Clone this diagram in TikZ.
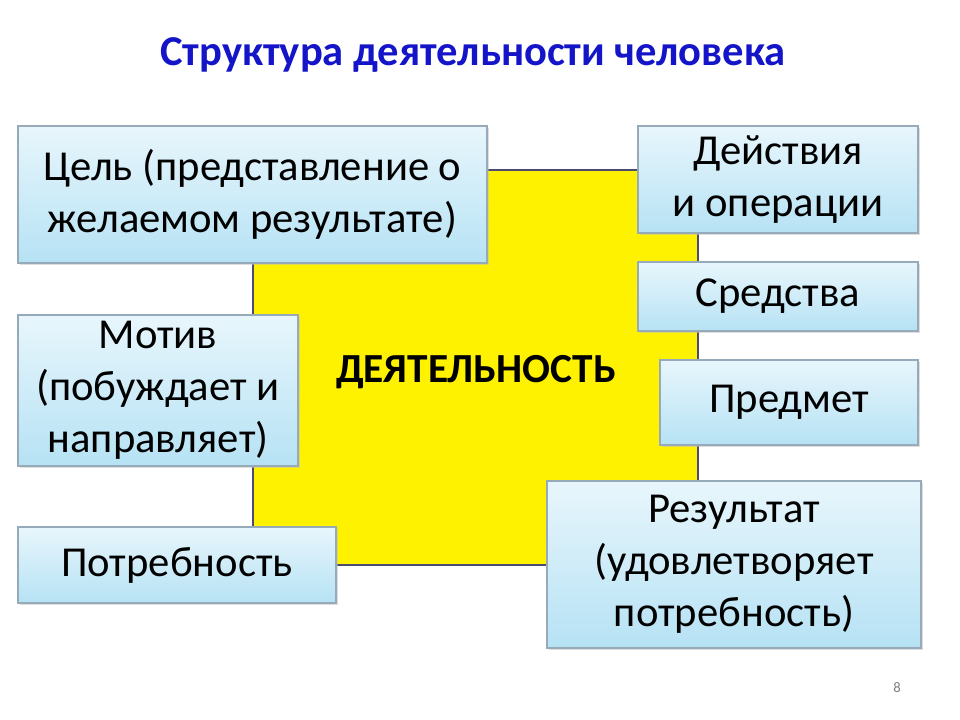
\documentclass[tikz,border=0pt]{standalone}
\usepackage{fontspec}
\setmainfont{Carlito}
\usetikzlibrary{shadows}
\definecolor{titleblue}{RGB}{20,20,200}
\definecolor{boxtop}{RGB}{232,246,252}
\definecolor{boxbot}{RGB}{182,226,244}
\definecolor{boxline}{RGB}{150,170,185}
\tikzset{
 infobox/.style={draw=boxline,line width=0.8pt,top color=boxtop,bottom color=boxbot,
   drop shadow={shadow xshift=1.5pt,shadow yshift=-1.5pt,fill=gray!50,opacity=0.5},
   align=center,font=\fontsize{32}{39}\selectfont,inner sep=0pt},
}
\begin{document}
\begin{tikzpicture}[x=0.75pt,y=-0.75pt]
\useasboundingbox (0,0) rectangle (960,720);
\fill[white] (0,0) rectangle (960,720);
\node[font=\bfseries\fontsize{24}{28}\selectfont,text=titleblue,scale=1.33] (title) at (473,55) {Структура деятельности человека};
\draw[fill=yellow,draw=black!65!blue!40!gray,line width=2pt] (253,170) rectangle (698,565);
\node[font=\bfseries\fontsize{31}{36}\selectfont] (act) at (476,372) {ДЕЯТЕЛЬНОСТЬ};
\newcommand\ibox[6]{\node[infobox,minimum width=#3*0.75pt,minimum height=#4*0.75pt] (#1) at (#2) {#5};}
\ibox{goal}{252.5,194.5}{469}{137}{Цель (представление о\\желаемом результате)}{}
\ibox{acts}{778,179.5}{280}{107}{Действия\\и операции}{}
\ibox{means}{778,296.5}{280}{69}{Средства}{}
\ibox{motive}{158,390.5}{280}{151}{Мотив\\(побуждает и\\направляет)}{}
\ibox{subj}{789,402.5}{258}{85}{Предмет}{}
\ibox{need}{177,565}{318}{76}{Потребность}{}
\ibox{res}{734,564.5}{374}{167}{Результат\\(удовлетворяет\\потребность)}{}
\node[text=gray,font=\fontsize{11}{13}\selectfont] (pg) at (897,688) {8};
\end{tikzpicture}
\end{document}
